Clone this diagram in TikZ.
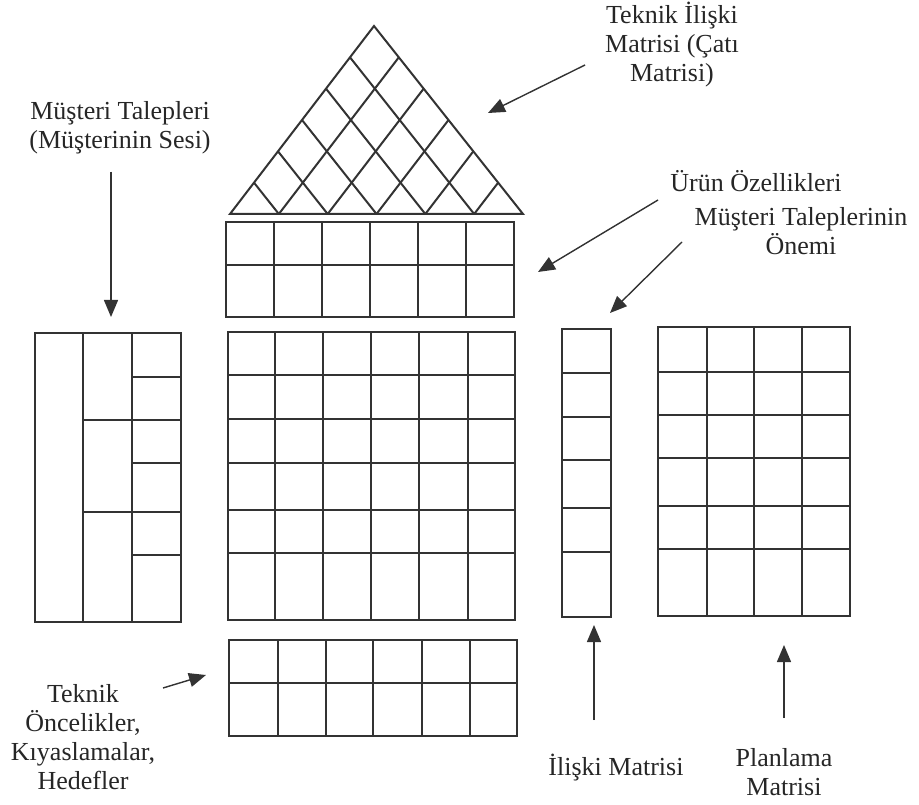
\documentclass[tikz,border=0pt]{standalone}
\usepackage{fontspec}
\setmainfont{Liberation Serif}
\usetikzlibrary{arrows.meta,calc}

\tikzset{
  matline/.style={line width=2pt, draw=black!80},
  lbl/.style={align=center, font=\fontsize{26}{29}\selectfont, inner sep=0pt, text=black!85},
  pointer/.style={line width=1.4pt, draw=black!80, fill=black!70, -{Triangle[length=17pt,width=14pt]}},
}

\begin{document}
\begin{tikzpicture}[x=1pt,y=-1pt]
\useasboundingbox (0,0) rectangle (919,805);

\coordinate (rl) at (230,214);
\coordinate (rr) at (523,214);
\coordinate (rt) at (374,26);
\draw[matline] (rl) -- (rt) -- (rr) -- cycle;
\foreach \k in {1,...,5}{
  \draw[matline] ($(rl)!\k/6!(rr)$) -- ($(rl)!\k/6!(rt)$);
  \draw[matline] ($(rl)!\k/6!(rr)$) -- ($(rr)!{1-\k/6}!(rt)$);
}

\draw[matline] (226,222) rectangle (514,317);
\draw[matline] (226,265) -- (514,265);
\foreach \x in {274,322,370,418,466} \draw[matline] (\x,222) -- (\x,317);

\draw[matline] (228,332) rectangle (515,620);
\foreach \y in {375,419,463,510,553} \draw[matline] (228,\y) -- (515,\y);
\foreach \x in {275,323,371,419,468} \draw[matline] (\x,332) -- (\x,620);

\draw[matline] (229,640) rectangle (517,736);
\draw[matline] (229,683) -- (517,683);
\foreach \x in {278,326,373,422,470} \draw[matline] (\x,640) -- (\x,736);

\draw[matline] (35,333) rectangle (181,622);
\foreach \x in {83,132} \draw[matline] (\x,333) -- (\x,622);
\foreach \y in {420,512} \draw[matline] (83,\y) -- (181,\y);
\foreach \y in {377,463,555} \draw[matline] (132,\y) -- (181,\y);

\draw[matline] (562,329) rectangle (611,617);
\foreach \y in {373,417,460,508,552} \draw[matline] (562,\y) -- (611,\y);

\draw[matline] (658,327) rectangle (850,616);
\foreach \x in {707,754,802} \draw[matline] (\x,327) -- (\x,616);
\foreach \y in {372,415,458,506,549} \draw[matline] (658,\y) -- (850,\y);

\node[lbl] (voc) at (120,128) {Müşteri Talepleri\\(Müşterinin Sesi)};
\node[lbl] (roof) at (672,45) {Teknik İlişki\\Matrisi (Çatı\\Matrisi)};
\node[lbl] (feat) at (756,181) {Ürün Özellikleri};
\node[lbl] (imp) at (801,231) {Müşteri Taleplerinin\\Önemi};
\node[lbl] (prio) at (83,737) {Teknik\\Öncelikler,\\Kıyaslamalar,\\Hedefler};
\node[lbl] (rel) at (616,768) {İlişki Matrisi};
\node[lbl] (plan) at (784,772) {Planlama\\Matrisi};

\coordinate (voc-s) at (111,172);
\coordinate (voc-e) at (111,317);
\coordinate (roof-s) at (585,65);
\coordinate (roof-e) at (488,113);
\coordinate (feat-s) at (658,200);
\coordinate (feat-e) at (538,272);
\coordinate (imp-s) at (682,242);
\coordinate (imp-e) at (610,313);
\coordinate (prio-s) at (163,688);
\coordinate (prio-e) at (206,675);
\coordinate (rel-s) at (594,720);
\coordinate (rel-e) at (594,625);
\coordinate (plan-s) at (784,718);
\coordinate (plan-e) at (784,645);

\draw[pointer] (voc-s) -- (voc-e);
\draw[pointer] (roof-s) -- (roof-e);
\draw[pointer] (feat-s) -- (feat-e);
\draw[pointer] (imp-s) -- (imp-e);
\draw[pointer] (prio-s) -- (prio-e);
\draw[pointer] (rel-s) -- (rel-e);
\draw[pointer] (plan-s) -- (plan-e);

\end{tikzpicture}
\end{document}
